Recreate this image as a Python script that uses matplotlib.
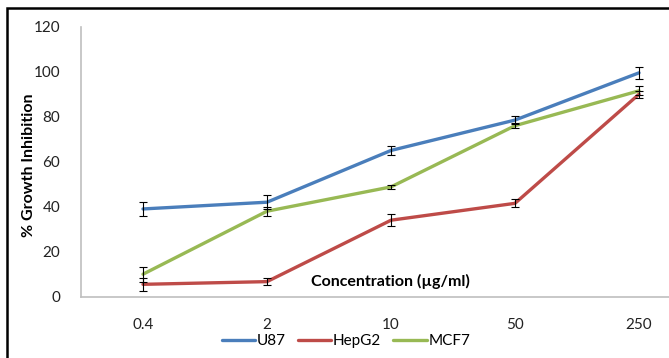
import matplotlib
matplotlib.use("Agg")
import matplotlib.pyplot as plt
from matplotlib.patches import Rectangle

categories = ["0.4", "2", "10", "50", "250"]
u87 = [39, 42, 65, 78.5, 99.5]
u87_err = [3, 3, 2, 1.8, 2.7]
hepg2 = [5.5, 6.7, 34, 41.5, 90]
hepg2_err = [3, 1.6, 2.6, 1.8, 1.5]
mcf7 = [10, 38, 48.8, 76, 91.5]
mcf7_err = [3.4, 2, 1, 1.2, 2]
series_names = ["U87", "HepG2", "MCF7"]
colors = ["#4A7EBB", "#BE4B48", "#98B954"]

W, H = 669, 358
fig = plt.figure(figsize=(W / 100, H / 100), dpi=100)
plt.rcParams['font.family'] = ['Lato', 'DejaVu Sans']

ax = fig.add_axes([81 / W, (H - 296.7) / H, 620 / W, 270 / H])
x = list(range(len(categories)))
for vals, errs, name, c in zip([u87, hepg2, mcf7], [u87_err, hepg2_err, mcf7_err], series_names, colors):
    ax.plot(x, vals, color=c, lw=2.4, label=name, solid_capstyle='round', zorder=2)
    ax.errorbar(x, vals, yerr=errs, fmt='none', ecolor='black', elinewidth=0.8,
                capsize=3, capthick=0.8, zorder=3)

ax.set_xlim(-0.5, 4.5)
ax.set_ylim(0, 120)
ax.set_yticks(range(0, 121, 20))
ax.set_xticks(x)
ax.set_xticklabels(categories)
ax.tick_params(axis='both', length=0, labelsize=11, colors='#222222')
ax.tick_params(axis='y', pad=15)
ax.tick_params(axis='x', pad=15)
for s in ['top', 'right']:
    ax.spines[s].set_visible(False)
for s in ['left', 'bottom']:
    ax.spines[s].set_color('#BFBFBF')
    ax.spines[s].set_linewidth(1.2)

fig.text(390 / W, 1 - 281 / H, "Concentration (µg/ml)", ha='center', va='center',
         fontsize=11.5, fontweight='bold', color='black')
fig.text(29 / W, 1 - 165 / H, "% Growth Inhibition", rotation=90, ha='center', va='center',
         fontsize=11.5, fontweight='bold')

fig.legend(loc='center', bbox_to_anchor=(346 / W, 1 - 341 / H), ncol=3, frameon=False,
           fontsize=11, handlelength=2.2, handletextpad=0.1, columnspacing=0.8,
           borderpad=0.1)

fig.patches.append(Rectangle((7 / W, -0.1), 1.2, (H - 8) / H + 0.1, transform=fig.transFigure,
                             fill=False, edgecolor='black', lw=1.8, zorder=10))

fig.savefig("out.png", dpi=100)
